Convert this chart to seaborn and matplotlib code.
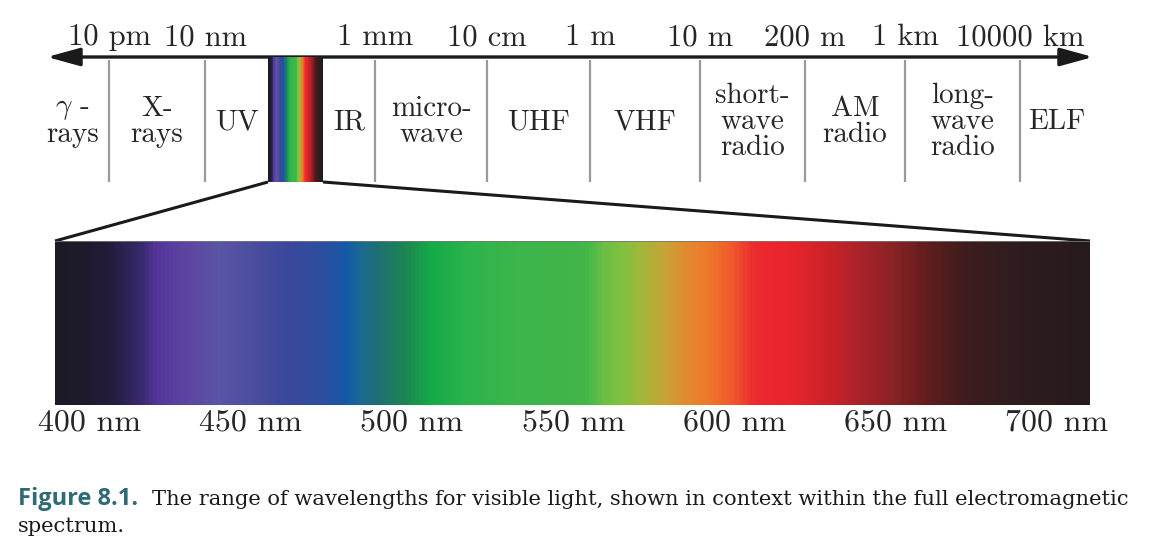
import numpy as np
import matplotlib
matplotlib.use("Agg")
import matplotlib.pyplot as plt
from matplotlib.colors import LinearSegmentedColormap
import seaborn as sns

# bands along the top arrow (schematic layout, not to scale)
band_names = ['$\\gamma$ -\nrays', 'X-\nrays', 'UV', '', 'IR', 'micro-\nwave', 'UHF', 'VHF',
              'short-\nwave\nradio', 'AM\nradio', 'long-\nwave\nradio', 'ELF']
band_edges = [36, 109, 205, 268, 323, 375, 487, 590, 700, 805, 905, 1020, 1093]
edge_labels = ['10 pm', '10 nm', '', '', '1 mm', '10 cm', '1 m', '10 m', '200 m', '1 km', '10000 km']

# visible spectrum colour stops, wavelength in nm
spec_nm = [389.5, 398, 406, 416, 420, 427.5, 440, 451, 461.5, 473, 479, 484, 489.5, 498, 505.5,
           518, 534, 551, 555, 559, 565, 572, 579, 585, 591.5, 599, 606.5, 618, 629, 639.5,
           650.5, 661, 672, 688, 710]
spec_colors = ['#1c1a26', '#1e1a2c', '#241c3c', '#3a2a70', '#53349a', '#5b42a0', '#5a55a5',
               '#4a4d9e', '#3a479a', '#2a4fa0', '#1558a8', '#1a6a90', '#1e7070', '#1d8650',
               '#14aa48', '#2eb34b', '#3db54a', '#40b549', '#45b848', '#6abd45', '#80c040',
               '#a8b43a', '#caa035', '#e08a30', '#ee7a2a', '#ef5a2c', '#ec2a2e', '#e8232c',
               '#cc2228', '#a8222a', '#852224', '#5e1c1c', '#3e1c1e', '#2e1c1e', '#261a1c']
spec_ticks = [400, 450, 500, 550, 600, 650, 700]

caption_head = 'Figure 8.1.'
caption_body = 'The range of wavelengths for visible light, shown in context within the full electromagnetic'
caption_tail = 'spectrum.'

sns.set_theme(style='white')
plt.rcParams['font.family'] = ['cmr10', 'DejaVu Serif']
plt.rcParams['mathtext.fontset'] = 'cm'

W, H = 1156, 552
fig = plt.figure(figsize=(W / 100, H / 100), dpi=100)
fig.patch.set_facecolor('white')


def box(x0, y0, x1, y1):
    # pixel box (top-left origin) -> figure fraction rect
    return [x0 / W, 1 - y1 / H, (x1 - x0) / W, (y1 - y0) / H]


ax = fig.add_axes([0, 0, 1, 1])
ax.set_xlim(0, W)
ax.set_ylim(H, 0)
ax.axis('off')

arrow_y = 57
sep_bottom = 182
small = (band_edges[3], arrow_y, band_edges[4], sep_bottom)
big = (55, 241, 1090, 405)

# double headed wavelength arrow
ax.annotate('', xy=(47, arrow_y), xytext=(band_edges[-1], arrow_y),
            arrowprops=dict(arrowstyle='<|-|>,head_length=20,head_width=5.5', mutation_scale=1,
                            color='#1a1a1a', lw=2.4, shrinkA=0, shrinkB=0))

seps = [e for i, e in enumerate(band_edges[1:-1], start=1) if i not in (3, 4)]
ax.vlines(seps, arrow_y + 3, sep_bottom, color='#9a9a9a', lw=1.6)

for x, lab in zip(band_edges[1:-1], edge_labels):
    if lab:
        ax.text(x, 45, lab, ha='center', va='baseline', fontsize=22)

for i, name in enumerate(band_names):
    if name:
        mid = (band_edges[i] + band_edges[i + 1]) / 2
        ax.text(mid, 122, name, ha='center', va='center', fontsize=21, linespacing=0.97)

# zoom lines from the small spectrum to the big one
ax.plot([small[0], big[0]], [small[3], big[1]], color='#1a1a1a', lw=2.2, solid_capstyle='butt')
ax.plot([small[2], big[2]], [small[3], big[1]], color='#1a1a1a', lw=2.2, solid_capstyle='butt')

# spectrum colormap
lo, hi = spec_nm[0], spec_nm[-1]
cmap = LinearSegmentedColormap.from_list(
    'visible', [((w - lo) / (hi - lo), c) for w, c in zip(spec_nm, spec_colors)])
step = 0.5
grid = np.arange(lo, hi + step / 2, step)
strip = grid[np.newaxis, :]

ax_small = fig.add_axes(box(*small))
sns.heatmap(strip, ax=ax_small, cmap=cmap, vmin=lo, vmax=hi, cbar=False,
            xticklabels=False, yticklabels=False, rasterized=True)
ax_small.axvline(0, color='#1a1a1a', lw=1.5)

ax_big = fig.add_axes(box(*big))
sns.heatmap(strip, ax=ax_big, cmap=cmap, vmin=lo, vmax=hi, cbar=False,
            xticklabels=False, yticklabels=False, rasterized=True)
ax_big.axhline(0, color='#777777', lw=1.2)
ax_big.set_xticks([(t - lo) / step + 0.5 for t in spec_ticks])
ax_big.set_xticklabels([f'{t} nm' for t in spec_ticks], fontsize=23)
ax_big.tick_params(axis='x', length=0, pad=3, labelbottom=True)

# caption
ax.text(18, 505, caption_head, family=['Open Sans', 'DejaVu Sans'], fontweight='bold',
        color='#2e6b77', fontsize=17, va='baseline')
ax.text(152, 505, caption_body, family=['DejaVu Serif'], fontsize=15.1, va='baseline', color='#1a1a1a')
ax.text(18, 532, caption_tail, family=['DejaVu Serif'], fontsize=15.1, va='baseline', color='#1a1a1a')

fig.savefig('out.png', dpi=100, facecolor='white')
